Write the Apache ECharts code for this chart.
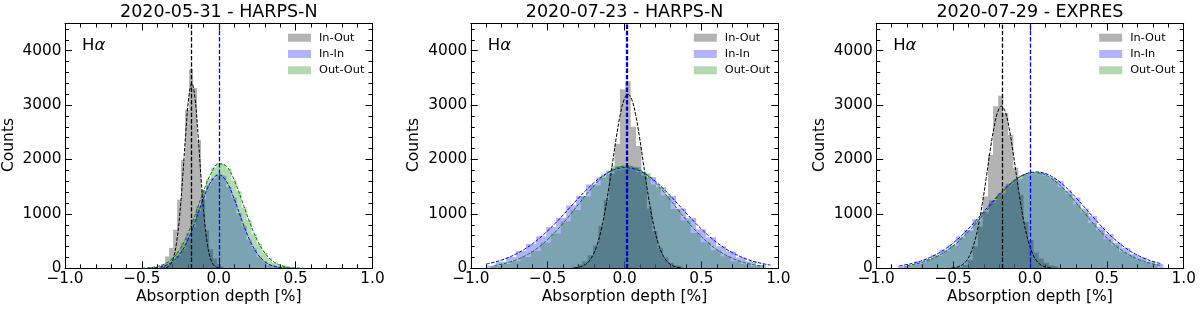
<!DOCTYPE html>
<html><head><meta charset="utf-8">
<script src="https://cdn.jsdelivr.net/npm/echarts@6/dist/echarts.min.js"></script>
<style>html,body{margin:0;padding:0;background:#fff}#c{width:1200px;height:313px}</style>
</head><body><div id="c"></div>
<script>
// ================= DATA =================
const titles = ['2020-05-31 - HARPS-N', '2020-07-23 - HARPS-N', '2020-07-29 - EXPRES'];
const seriesNames = ['In-Out', 'In-In', 'Out-Out'];
const lineLabel = 'H\u03b1';
const xLabel = 'Absorption depth [%]';
const yLabel = 'Counts';

// Panel 1 histograms (bin start, bin width, counts)
const p1GrayStart = -0.375, p1GrayWidth = 0.026;
const p1GrayCounts = [80, 218, 371, 709, 1261, 1997, 2917, 3660, 3315, 2365, 1445, 700, 350, 180, 80, 30];
const p1BlueStart = -0.4455, p1BlueWidth = 0.033;
const p1BlueCounts = [6, 15, 38, 72, 120, 226, 348, 552, 760, 1040, 1270, 1530, 1650, 1725, 1690, 1495, 1300, 1015, 780, 530, 362, 212, 130, 66, 38, 15, 6];
const p1GreenStart = -0.4785, p1GreenWidth = 0.033;
const p1GreenCounts = [10, 20, 33, 68, 110, 196, 298, 470, 640, 910, 1140, 1430, 1640, 1850, 1935, 1900, 1830, 1615, 1410, 1120, 885, 625, 450, 285, 190, 104, 62, 30, 18, 8];
// Panel 1 fitted curves (sample start, sample step, values)
const p1GrayFitStart = -0.375, p1GrayFitStep = 0.02;
const p1GrayFit = [1, 5, 20, 67, 191, 460, 945, 1655, 2469, 3139, 3400, 3139, 2469, 1655, 945, 460, 191, 67, 20, 5, 1];
const p1BlueFitStart = -0.45, p1BlueFitStep = 0.05;
const p1BlueFit = [4, 15, 46, 120, 271, 527, 884, 1279, 1597, 1720, 1597, 1279, 884, 527, 271, 120, 46, 15, 4];
const p1GreenFitStart = -0.50, p1GreenFitStep = 0.05;
const p1GreenFit = [3, 11, 32, 81, 182, 363, 642, 1010, 1409, 1746, 1920, 1875, 1625, 1251, 855, 519, 280, 134, 57, 21, 7, 2];
const p1Centers = [-0.177, 0.0];

// Panel 2
const p2GrayStart = -0.345, p2GrayWidth = 0.035;
const p2GrayCounts = [30, 70, 130, 240, 420, 780, 1250, 1740, 2290, 3290, 3437, 2600, 2250, 1700, 1100, 680, 380, 200, 100, 50, 20];
const p2BlueStart = -0.9, p2BlueWidth = 0.065;
const p2BlueCounts = [45, 120, 210, 320, 445, 590, 760, 930, 1160, 1330, 1540, 1670, 1800, 1830, 1850, 1770, 1680, 1490, 1330, 1100, 930, 720, 570, 405, 310, 200, 130, 60];
const p2GreenStart = -0.87, p2GreenWidth = 0.065;
const p2GreenCounts = [40, 80, 130, 210, 320, 470, 640, 860, 1070, 1320, 1520, 1730, 1880, 1900, 1860, 1750, 1540, 1340, 1090, 880, 650, 480, 330, 220, 130, 80, 40];
const p2GrayFitStart = -0.328, p2GrayFitStep = 0.025;
const p2GrayFit = [7, 16, 36, 73, 141, 255, 433, 693, 1039, 1465, 1941, 2416, 2824, 3101, 3200, 3101, 2824, 2416, 1941, 1465, 1039, 693, 433, 255, 141, 73, 36, 16, 7];
const p2BlueFitStart = -0.90, p2BlueFitStep = 0.05;
const p2BlueFit = [78, 110, 151, 204, 271, 352, 449, 561, 689, 829, 979, 1135, 1289, 1437, 1571, 1684, 1772, 1828, 1850, 1836, 1788, 1708, 1600, 1470, 1326, 1172, 1016, 865, 722, 590, 474, 374, 289, 219, 163, 118, 85, 59];
const p2GreenFitStart = -0.85, p2GreenFitStep = 0.05;
const p2GreenFit = [51, 76, 112, 160, 224, 305, 406, 528, 669, 827, 998, 1176, 1351, 1515, 1658, 1771, 1846, 1879, 1864, 1806, 1707, 1575, 1419, 1246, 1069, 894, 730, 582, 453, 343, 254, 184, 130, 89, 60, 39];
const p2Centers = [0.022, 0.006];

// Panel 3
const p3GrayStart = -0.471, p3GrayWidth = 0.033;
const p3GrayCounts = [20, 60, 153, 399, 767, 1320, 2087, 2977, 3173, 2854, 2450, 1850, 1350, 850, 520, 290, 180, 100, 50, 20];
const p3BlueStart = -0.86, p3BlueWidth = 0.054;
const p3BlueCounts = [40, 75, 125, 170, 250, 340, 430, 585, 710, 900, 1040, 1250, 1380, 1555, 1640, 1740, 1750, 1760, 1670, 1600, 1430, 1300, 1100, 960, 760, 630, 470, 375, 260, 200, 130, 80];
const p3GreenStart = -0.82, p3GreenWidth = 0.05;
const p3GreenCounts = [45, 80, 110, 170, 225, 320, 410, 555, 680, 860, 1005, 1200, 1340, 1515, 1610, 1720, 1745, 1760, 1700, 1635, 1490, 1365, 1175, 1025, 835, 695, 535, 425, 305, 235, 160, 110, 70];
const p3GrayFitStart = -0.51, p3GrayFitStep = 0.025;
const p3GrayFit = [6, 15, 34, 74, 150, 281, 488, 789, 1184, 1650, 2138, 2571, 2872, 2980, 2872, 2571, 2138, 1650, 1184, 789, 488, 281, 150, 74, 34, 15, 6];
const p3BlueFitStart = -0.85, p3BlueFitStep = 0.05;
const p3BlueFit = [47, 69, 101, 143, 199, 270, 358, 464, 588, 728, 881, 1041, 1203, 1359, 1499, 1618, 1705, 1757, 1770, 1741, 1674, 1574, 1446, 1297, 1138, 976, 818, 670, 536, 419, 320, 240, 175, 125, 87];
const p3GreenFitStart = -0.80, p3GreenFitStep = 0.05;
const p3GreenFit = [49, 74, 110, 159, 223, 306, 408, 531, 672, 830, 999, 1170, 1337, 1487, 1612, 1702, 1752, 1756, 1716, 1633, 1514, 1368, 1204, 1033, 863, 703, 558, 431, 325, 238, 170, 119, 80, 53];
const p3Centers = [-0.185, 0.0];

// axis ranges / ticks
const xMin = -1, xMax = 1, xStep = 0.5;
const yMin = 0, yMax = 4500, yStep = 1000, yMinorStep = 200;

// ================= LAYOUT / STYLE =================
const FONT = 'DejaVu Sans';
const GRID_LEFTS = [65, 470.8, 876.2];
const GRID_W = 307.5, GRID_TOP = 23.5, GRID_H = 244.8;
const HIST_COLORS = ['#808080', '#0000ff', '#008000'];
const HIST_ALPHA = [0.6, 0.3, 0.3];
const LEGEND_COLORS = ['#b3b3b3', '#b2b2ff', '#b2d9b2'];
const FIT_COLORS = ['#000000', '#0000ff', '#008000'];
const VLINE_COLORS = ['#000000', '#0000ff'];

const panels = [
  { hist: [[p1GrayStart, p1GrayWidth, p1GrayCounts], [p1BlueStart, p1BlueWidth, p1BlueCounts], [p1GreenStart, p1GreenWidth, p1GreenCounts]],
    fits: [[p1GrayFitStart, p1GrayFitStep, p1GrayFit], [p1BlueFitStart, p1BlueFitStep, p1BlueFit], [p1GreenFitStart, p1GreenFitStep, p1GreenFit]],
    centers: p1Centers },
  { hist: [[p2GrayStart, p2GrayWidth, p2GrayCounts], [p2BlueStart, p2BlueWidth, p2BlueCounts], [p2GreenStart, p2GreenWidth, p2GreenCounts]],
    fits: [[p2GrayFitStart, p2GrayFitStep, p2GrayFit], [p2BlueFitStart, p2BlueFitStep, p2BlueFit], [p2GreenFitStart, p2GreenFitStep, p2GreenFit]],
    centers: p2Centers },
  { hist: [[p3GrayStart, p3GrayWidth, p3GrayCounts], [p3BlueStart, p3BlueWidth, p3BlueCounts], [p3GreenStart, p3GreenWidth, p3GreenCounts]],
    fits: [[p3GrayFitStart, p3GrayFitStep, p3GrayFit], [p3BlueFitStart, p3BlueFitStep, p3BlueFit], [p3GreenFitStart, p3GreenFitStep, p3GreenFit]],
    centers: p3Centers }
];

function histSteps(start, width, counts) {
  const pts = counts.map((c, i) => [start + i * width, c]);
  pts.push([start + counts.length * width, counts[counts.length - 1]]);
  return pts;
}
function curvePoints(start, step, vals) {
  return vals.map((v, i) => [start + i * step, v]);
}
const xFmt = v => { const s = Math.abs(v).toFixed(1); return v < 0 ? '\u2212' + s : s; };

const grid = [], xAxis = [], yAxis = [], series = [], legend = [], graphic = [];
const black = { color: '#000', width: 1 };

panels.forEach((p, g) => {
  const L = GRID_LEFTS[g];
  grid.push({ left: L, top: GRID_TOP, width: GRID_W, height: GRID_H, containLabel: false });
  ['bottom', 'top'].forEach((pos, k) => {
    xAxis.push({
      type: 'value', gridIndex: g, position: pos, min: xMin, max: xMax, interval: xStep,
      axisLine: { show: true, onZero: false, lineStyle: black },
      axisTick: { show: true, inside: true, length: 7, lineStyle: black },
      minorTick: { show: true, splitNumber: 5, length: 4, lineStyle: black },
      splitLine: { show: false }, minorSplitLine: { show: false },
      axisLabel: { show: k === 0, formatter: xFmt, color: '#000', fontSize: 15.3, fontFamily: FONT, margin: 3 }
    });
  });
  [['left', yStep, 7, true, true], ['right', yStep, 7, false, true], ['left', yMinorStep, 4, false, false], ['right', yMinorStep, 4, false, false]]
    .forEach(([pos, iv, len, lab, line]) => {
      yAxis.push({
        type: 'value', gridIndex: g, position: pos, min: yMin, max: yMax, interval: iv,
        axisLine: { show: line, onZero: false, lineStyle: black },
        axisTick: { show: true, inside: true, length: len, lineStyle: black },
        splitLine: { show: false },
        axisLabel: { show: lab, color: '#000', fontSize: 15.3, fontFamily: FONT, margin: 3.5,
          formatter: v => (v % 1000 === 0 ? String(v) : '') }
      });
    });
  const xi = 2 * g, yi = 4 * g;
  p.hist.forEach(([s, w, c], k) => {
    series.push({
      type: 'line', name: seriesNames[k], xAxisIndex: xi, yAxisIndex: yi,
      data: histSteps(s, w, c), step: 'end', symbol: 'none', showSymbol: false, silent: true,
      lineStyle: { width: 0, opacity: 0 }, itemStyle: { color: HIST_COLORS[k] },
      areaStyle: { color: HIST_COLORS[k], opacity: HIST_ALPHA[k] },
      emphasis: { disabled: true }, z: 2
    });
  });
  p.fits.forEach(([s, st, v], k) => {
    const ser = {
      type: 'line', name: 'fit-' + seriesNames[k], xAxisIndex: xi, yAxisIndex: yi,
      data: curvePoints(s, st, v), smooth: 0.4, symbol: 'none', showSymbol: false, silent: true,
      lineStyle: { color: FIT_COLORS[k], width: 1, type: [3.5, 1.5] }, itemStyle: { color: FIT_COLORS[k] },
      emphasis: { disabled: true }, z: 3
    };
    if (k < 2) {
      ser.markLine = { silent: true, symbol: ['none', 'none'], label: { show: false }, animation: false,
        lineStyle: { color: VLINE_COLORS[k], width: 1.3, type: [4.4, 1.9] },
        data: [{ xAxis: p.centers[k] }] };
    }
    series.push(ser);
  });
  legend.push({
    orient: 'vertical', left: L + 223, top: 31.7, padding: 0, itemWidth: 23, itemHeight: 8, itemGap: 4.3,
    icon: 'rect', selectedMode: false,
    textStyle: { fontSize: 11.3, fontFamily: FONT, color: '#000', lineHeight: 12, padding: [0, 0, 0, 3] },
    data: seriesNames.map((n, k) => ({ name: n, icon: 'rect', itemStyle: { color: LEGEND_COLORS[k], opacity: 1, borderWidth: 0 } }))
  });
  graphic.push({ type: 'text', x: L + GRID_W / 2, y: 12, style: { text: titles[g], fontSize: 17.5, fontFamily: FONT, fill: '#000', align: 'center', verticalAlign: 'middle' } });
  graphic.push({ type: 'text', x: L + 17, y: 45.5, style: { text: '{h|H}{a|\u03b1}', verticalAlign: 'middle', align: 'left',
    rich: { h: { fontSize: 16.5, fontFamily: FONT, fill: '#000' }, a: { fontSize: 16.5, fontFamily: FONT, fontStyle: 'italic', fill: '#000' } } } });
  graphic.push({ type: 'text', x: L + GRID_W / 2, y: 297, style: { text: xLabel, fontSize: 15.5, fontFamily: FONT, fill: '#000', align: 'center', verticalAlign: 'middle' } });
  graphic.push({ type: 'text', x: L - 56.5, y: 145, rotation: Math.PI / 2, style: { text: yLabel, fontSize: 15.5, fontFamily: FONT, fill: '#000', align: 'center', verticalAlign: 'middle' } });
});

const chart = echarts.init(document.getElementById('c'), null, { renderer: 'canvas' });
chart.setOption({ animation: false, backgroundColor: '#fff', grid, xAxis, yAxis, series, legend, graphic });
</script></body></html>
